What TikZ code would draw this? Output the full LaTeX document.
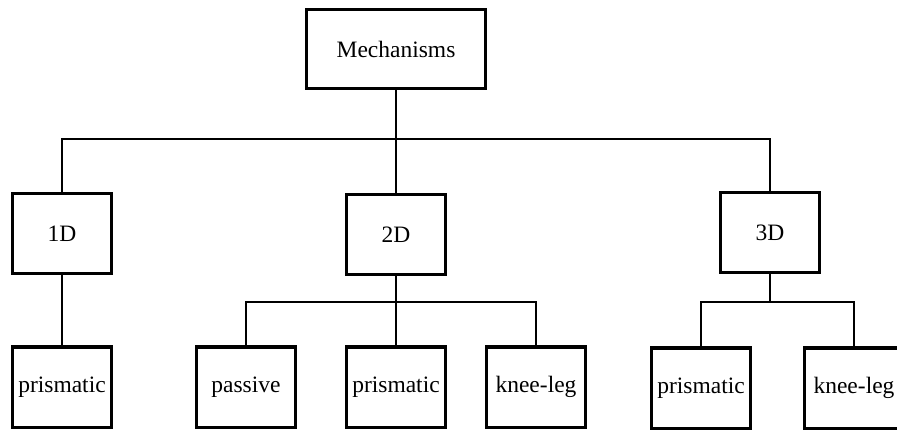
\documentclass[tikz,border=0pt]{standalone}
\usepackage{fontspec}
\setmainfont{Liberation Serif}
\begin{document}
\begin{tikzpicture}[x=1pt,y=-1pt,
  box/.style={draw, line width=3pt, rectangle, minimum width=99pt, minimum height=80pt, inner sep=0pt, font=\fontsize{23.5}{28}\selectfont},
  conn/.style={line width=1.6pt},
  thinconn/.style={line width=1.1pt}]
\useasboundingbox (0,0) rectangle (897,430);
\clip (0,0) rectangle (897,430);
\node[box, minimum width=179pt, minimum height=79pt] (mech) at (396,49) {Mechanisms};
\node[box] (d1) at (62,234) {1D};
\node[box] (d2) at (396,234.5) {2D};
\node[box] (d3) at (770,233) {3D};
\node[box] (p1) at (62,387) {prismatic};
\node[box] (pas) at (246,387) {passive};
\node[box] (p2) at (396,387) {prismatic};
\node[box] (k2) at (536,387) {knee-leg};
\node[box] (p3) at (701,388) {prismatic};
\node[box] (k3) at (854,388) {knee-leg};
\coordinate (j1) at (396,139);
\coordinate (j2) at (396,302);
\coordinate (j3) at (770,302);
\draw[conn] (mech.south) -- (d2.north);
\draw[conn] (d1.north) |- (j1) -| (d3.north);
\draw[conn] (d1.south) -- (p1.north);
\draw[conn] (d2.south) -- (p2.north);
\draw[conn] (pas.north) |- (j2) -| (k2.north);
\draw[thinconn] (d3.south) -- (j3);
\draw[thinconn] (p3.north) |- (j3) -| (k3.north);
\end{tikzpicture}
\end{document}
